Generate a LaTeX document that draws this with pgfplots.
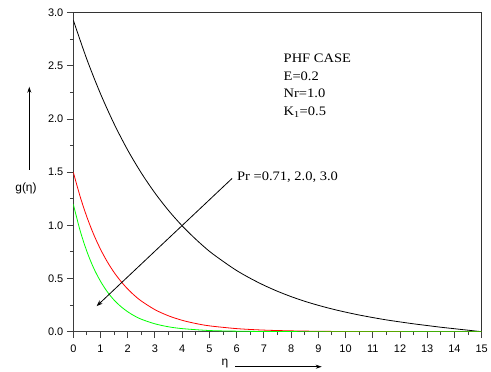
\documentclass[border=0pt]{standalone}
\usepackage{fontspec}
\setmainfont{Liberation Sans}
\newfontfamily\tnr[FakeStretch=1.12]{Liberation Serif}
\usepackage{pgfplots}
\pgfplotsset{compat=1.18}
\usetikzlibrary{arrows.meta}
\begin{document}
\begin{tikzpicture}
\begin{axis}[at={(0bp,0bp)}, anchor=south west, scale only axis,
  width=408.4bp, height=319bp,
  xmin=0, xmax=15, ymin=0, ymax=3,
  xtick={0,1,2,3,4,5,6,7,8,9,10,11,12,13,14,15},
  ytick={0,0.5,1,1.5,2,2.5,3},
  minor x tick num=1, minor y tick num=1,
  tick align=outside, xtick pos=bottom, ytick pos=left,
  major tick length=6.5bp, minor tick length=3.5bp,
  tick style={line width=1bp, black!75},
  axis line style={line width=0.8bp, black!80},
  y tick label style={/pgf/number format/fixed, /pgf/number format/fixed zerofill, /pgf/number format/precision=1},
  /pgf/number format/assume math mode=true,
  tick label style={font=\fontsize{11}{13}\selectfont},
  x tick label style={yshift=-3bp},
]
\draw[line width=1.3bp, black!75] (rel axis cs:0,1) -- (rel axis cs:0,0) -- (rel axis cs:1,0);
\addplot[black, line width=0.8bp, smooth] coordinates {
(0,2.930) (0.5,2.560) (1,2.237) (1.5,1.954) (2,1.707) (2.5,1.492) (3,1.304) (3.5,1.139)
(4,0.995) (4.5,0.869) (5,0.756) (5.5,0.662) (6,0.575) (6.5,0.502) (7,0.437) (7.5,0.380)
(8,0.330) (8.5,0.286) (9,0.248) (9.5,0.214) (10,0.184) (10.5,0.157) (11,0.133) (11.5,0.111)
(12,0.092) (12.5,0.074) (13,0.058) (13.5,0.042) (14,0.028) (14.5,0.014) (15,0)};
\addplot[red, line width=0.8bp, smooth] coordinates {
(0,1.500) (0.25,1.272) (0.5,1.078) (0.75,0.914) (1,0.775) (1.25,0.657) (1.5,0.557) (1.75,0.473)
(2,0.401) (2.25,0.340) (2.5,0.288) (3,0.207) (3.5,0.149) (4,0.107) (4.5,0.077) (5,0.055)
(6,0.029) (7,0.015) (8,0.008) (9,0.004) (10,0.002) (12,0.0005) (15,0)};
\addplot[green, line width=0.8bp, smooth] coordinates {
(0,1.200) (0.25,0.951) (0.5,0.754) (0.75,0.597) (1,0.474) (1.25,0.375) (1.5,0.297) (1.75,0.236)
(2,0.187) (2.25,0.148) (2.5,0.117) (3,0.074) (3.5,0.046) (4,0.029) (5,0.011) (6,0.005)
(7,0.002) (8,0.0006) (10,0) (15,0)};
\draw[black, line width=0.8bp, -{Stealth[length=6bp,width=4.5bp]}] (axis cs:5.83,1.441) -- (axis cs:0.86,0.241);
\node[anchor=base west, inner sep=0pt, font=\tnr\fontsize{13}{15}\selectfont] at (axis cs:6.007,1.420) {Pr =0.71, 2.0, 3.0};
\node[anchor=base west, inner sep=0pt, font=\tnr\fontsize{13}{15}\selectfont] at (axis cs:7.72,2.534) {PHF CASE};
\node[anchor=base west, inner sep=0pt, font=\tnr\fontsize{13}{15}\selectfont] at (axis cs:7.72,2.367) {E=0.2};
\node[anchor=base west, inner sep=0pt, font=\tnr\fontsize{13}{15}\selectfont] at (axis cs:7.72,2.201) {Nr=1.0};
\node[anchor=base west, inner sep=0pt, font=\tnr\fontsize{13}{15}\selectfont] at (axis cs:7.72,2.031) {K\textsubscript{1}=0.5};
\end{axis}
\node[font=\fontsize{12}{14}\selectfont] at (-47.3bp,143.7bp) {g(η)};
\draw[black, line width=0.8bp, -{Stealth[length=6bp,width=4bp]}] (-44bp,161.7bp) -- (-44bp,245bp);
\node[font=\fontsize{12}{14}\selectfont] at (151.7bp,-32bp) {η};
\draw[black, line width=0.8bp, -{Stealth[length=6bp,width=4bp]}] (161.7bp,-35bp) -- (248.4bp,-35bp);
\pgfresetboundingbox
\path[use as bounding box] (-73.3bp,-40.3bp) rectangle (417.7bp,331.7bp);
\end{tikzpicture}
\end{document}
